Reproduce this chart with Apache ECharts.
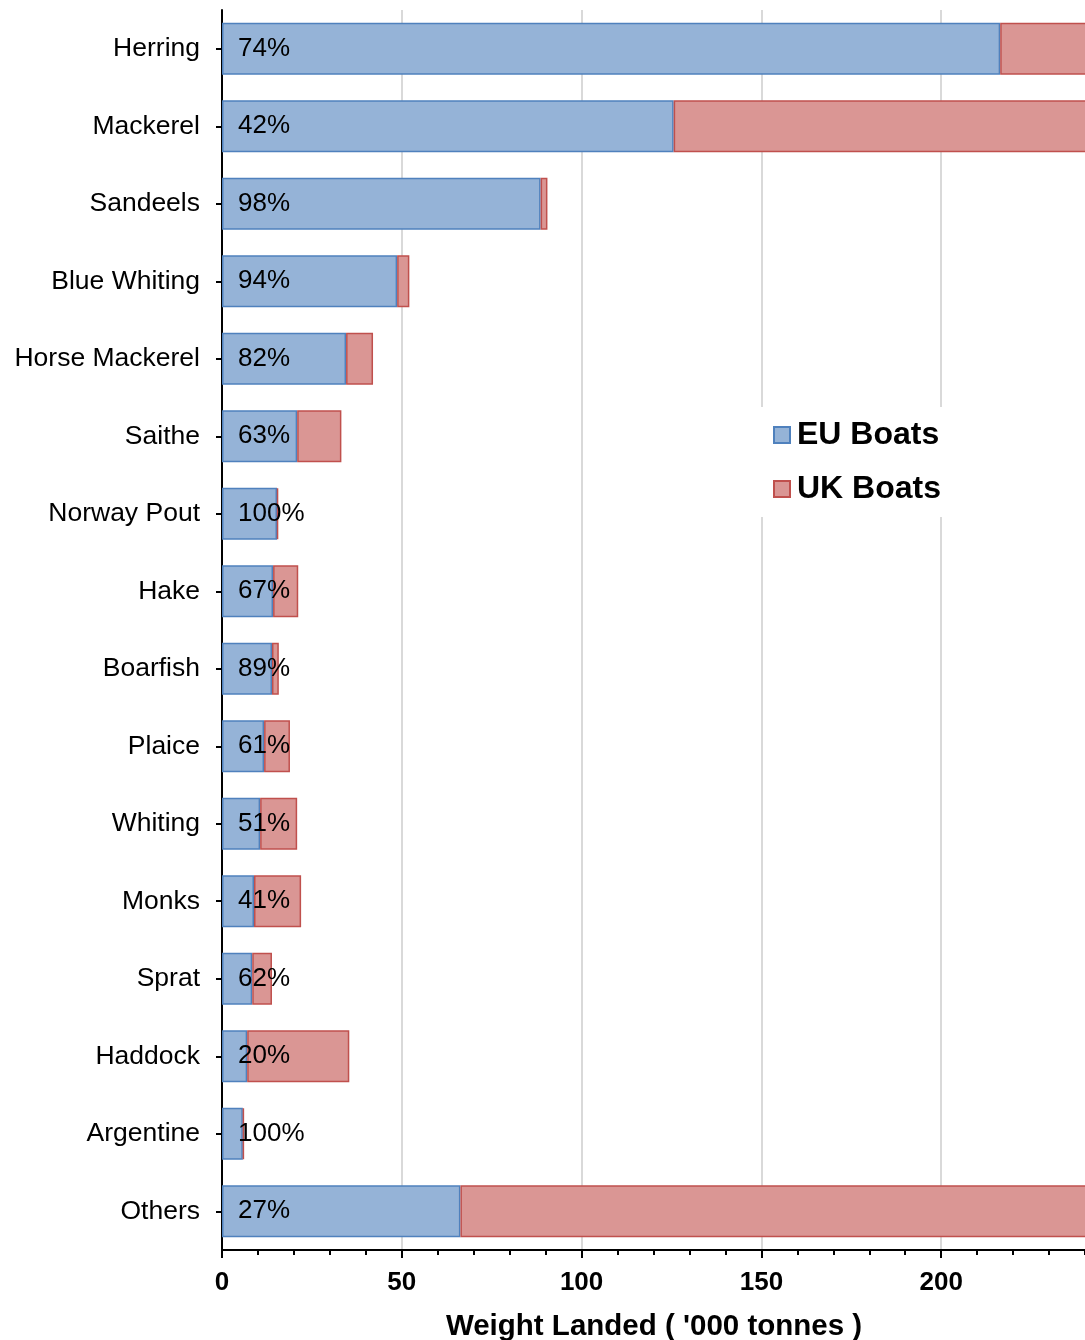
<!DOCTYPE html>
<html><head><meta charset="utf-8">
<script src="https://cdn.jsdelivr.net/npm/echarts@6/dist/echarts.min.js"></script>
<style>html,body{margin:0;padding:0;background:#fff}#c{width:1085px;height:1340px}</style>
</head><body><div id="c"></div>
<script>
const categories = ['Herring','Mackerel','Sandeels','Blue Whiting','Horse Mackerel','Saithe','Norway Pout','Hake','Boarfish','Plaice','Whiting','Monks','Sprat','Haddock','Argentine','Others'];
const euBoats = [216.4, 125.6, 88.6, 48.7, 34.5, 20.9, 15.3, 14.2, 13.9, 11.7, 10.6, 8.9, 8.4, 7.0, 5.8, 66.3];
const ukBoats = [76.0, 173.5, 1.9, 3.4, 7.5, 12.3, 0.3, 7.0, 1.9, 7.2, 10.3, 13.1, 5.5, 28.4, 0.3, 179.0];
const euShare = [74, 42, 98, 94, 82, 63, 100, 67, 89, 61, 51, 41, 62, 20, 100, 27];
const xTicks = [0, 50, 100, 150, 200];

const FONT = '"Liberation Sans", Arial, sans-serif';
const chart = echarts.init(document.getElementById('c'), null, {renderer: 'canvas'});
chart.setOption({
  animation: false,
  backgroundColor: '#fff',
  textStyle: {fontFamily: FONT},
  grid: {left: 222, width: 899, top: 10, height: 1240, outerBoundsMode: 'none', containLabel: false},
  legend: {
    data: ['EU Boats', 'UK Boats'],
    orient: 'vertical', left: 758, top: 407,
    padding: [12, 12, 12, 15],
    icon: 'rect',
    itemWidth: 16, itemHeight: 16, itemGap: 22,
    backgroundColor: '#fff',
    textStyle: {fontFamily: FONT, fontSize: 32, fontWeight: 'bold', color: '#000', padding: [0, 0, 0, 2]}
  },
  xAxis: [{
    type: 'value', min: 0, max: 250, interval: 10,
    axisLine: {show: true, lineStyle: {color: '#000', width: 2}},
    axisTick: {show: true, length: 5, lineStyle: {color: '#000', width: 2}},
    axisLabel: {show: false},
    splitLine: {show: false}
  }, {
    type: 'value', min: 0, max: 250, interval: 50, position: 'bottom',
    axisLine: {show: false},
    axisTick: {show: true, length: 8, lineStyle: {color: '#000', width: 2}},
    axisLabel: {
      show: true, margin: 20,
      fontFamily: FONT, fontSize: 26, fontWeight: 'bold', color: '#000',
      formatter: v => xTicks.includes(v) ? String(v) : ''
    },
    splitLine: {show: true, lineStyle: {color: '#d9d9d9', width: 2}}
  }],
  yAxis: {
    type: 'category', inverse: true, data: categories,
    axisLine: {show: true, lineStyle: {color: '#000', width: 2}},
    axisTick: {show: true, alignWithLabel: true, length: 6, lineStyle: {color: '#000', width: 2}},
    axisLabel: {fontFamily: FONT, fontSize: 26.5, color: '#000', margin: 22},
    splitLine: {show: false}
  },
  title: {
    text: "Weight Landed ( '000 tonnes )",
    left: 649, top: 1307, textAlign: 'center',
    textStyle: {fontFamily: FONT, fontSize: 29.5, fontWeight: 'bold', color: '#000'}
  },
  series: [{
    name: 'EU Boats', type: 'bar', stack: 'total', barWidth: 52, xAxisIndex: 0,
    data: euBoats,
    itemStyle: {color: '#95b3d7', borderColor: '#4f81bd', borderWidth: 1.5},
    label: {
      show: true, position: 'insideLeft', distance: 16,
      fontFamily: FONT, fontSize: 26, color: '#000',
      formatter: p => euShare[p.dataIndex] + '%'
    }
  }, {
    name: 'UK Boats', type: 'bar', stack: 'total', barWidth: 52, xAxisIndex: 0,
    data: ukBoats,
    itemStyle: {color: '#da9694', borderColor: '#c0504d', borderWidth: 1.5}
  }]
});
</script></body></html>
